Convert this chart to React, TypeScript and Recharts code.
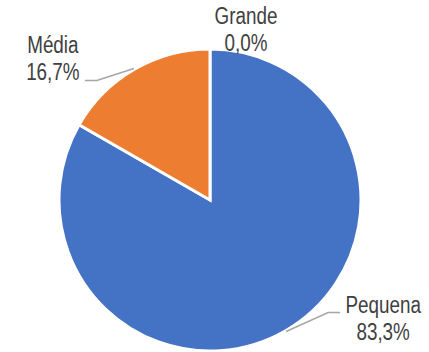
import React from "react";
import { PieChart, Pie, Cell } from "recharts";

const categories = ["Pequena", "Média", "Grande"];
const values = [83.3, 16.7, 0.0];
const percentLabels = ["83,3%", "16,7%", "0,0%"];
const colors = ["#4472C4", "#ED7D31", "#A5A5A5"];

const data = categories.map((name, i) => ({ name, value: values[i], pct: percentLabels[i] }));

// label layout offsets relative to the slice's outer edge point (component styling)
const LAYOUT: Record<string, { line: boolean; elbow: [number, number]; end: [number, number]; text: [number, number] }> = {
  Pequena: { line: true, elbow: [42, -19], end: [54, -19], text: [97, -19] },
  "Média": { line: true, elbow: [-37, 12], end: [-49, 12], text: [-81, -15] },
  Grande: { line: false, elbow: [0, 0], end: [0, 0], text: [36, -24] },
};

const RAD = Math.PI / 180;
const FONT = "'Liberation Sans', Arial, sans-serif";

const renderLabel = (props: any) => {
  const { cx, cy, midAngle, outerRadius, payload, name } = props;
  const nm = (payload && payload.name) || name;
  const lay = LAYOUT[nm];
  if (!lay) return null;
  const r = outerRadius + 1;
  const ex = cx + r * Math.cos(-midAngle * RAD);
  const ey = cy + r * Math.sin(-midAngle * RAD);
  const pct = (payload && payload.pct) || "";
  const tx = ex + lay.text[0];
  const ty = ey + lay.text[1];
  return (
    <g>
      {lay.line && (
        <polyline
          points={`${ex},${ey} ${ex + lay.elbow[0]},${ey + lay.elbow[1]} ${ex + lay.end[0]},${ey + lay.end[1]}`}
          fill="none"
          stroke="#A6A6A6"
          strokeWidth={1.5}
        />
      )}
      <text
        transform={`translate(${tx},${ty}) scale(0.82,1)`}
        x={0}
        y={0}
        textAnchor="middle"
        fill="#404040"
        fontSize={23}
        fontFamily={FONT}
      >
        <tspan x={0} dy={0}>{nm}</tspan>
        <tspan x={0} dy={27}>{pct}</tspan>
      </text>
    </g>
  );
};

export default function App() {
  return (
    <div style={{ position: "absolute", left: 0, top: 0, width: 429, height: 352, background: "#fff" }}>
      <PieChart width={429} height={352} margin={{ top: 0, right: 0, bottom: 0, left: 0 }}>
        <Pie
          data={data}
          dataKey="value"
          nameKey="name"
          cx={210}
          cy={200}
          outerRadius={151}
          startAngle={90}
          endAngle={-270}
          stroke="#FFFFFF"
          strokeWidth={3}
          label={renderLabel}
          labelLine={false}
          isAnimationActive={false}
        >
          {data.map((d, i) => (
            <Cell key={d.name} fill={colors[i]} />
          ))}
        </Pie>
      </PieChart>
    </div>
  );
}
